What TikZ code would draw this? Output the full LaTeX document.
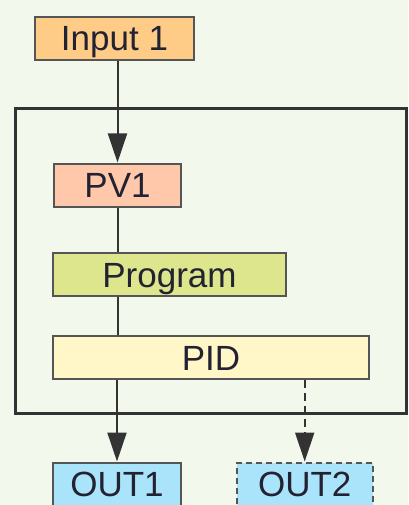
\documentclass[tikz,border=0pt]{standalone}
\usepackage{fontspec}
\setmainfont{Liberation Sans}
\usetikzlibrary{arrows.meta}
\newlength{\du}
\setlength{\du}{1pt}

\begin{document}
\begin{tikzpicture}[
  blok/.style={draw=boxline, line width=2\du, minimum height=43\du, inner sep=0pt, text height=25\du, text depth=0\du, text=textcol, font=\fontsize{35}{40}\selectfont},
  wire/.style={draw=linkcol, line width=2\du},
  link/.style={wire, -{Triangle[length=29pt,width=19pt]}}
]
\pgftransformxscale{1.000000}
\pgftransformyscale{-1.000000}
\definecolor{bgcol}{RGB}{242,248,235}
\definecolor{boxline}{RGB}{85,85,85}
\definecolor{framecol}{RGB}{51,51,51}
\definecolor{linkcol}{RGB}{51,51,51}
\definecolor{textcol}{RGB}{34,34,51}
\definecolor{inputcol}{RGB}{255,204,136}
\definecolor{pvcol}{RGB}{255,200,170}
\definecolor{progcol}{RGB}{221,230,140}
\definecolor{pidcol}{RGB}{255,247,200}
\definecolor{outcol}{RGB}{170,228,250}
% background
\fill[bgcol] (0\du,0\du) rectangle (408\du,505\du);
\useasboundingbox (0\du,0\du) rectangle (408\du,505\du);
% controller frame
\node[draw=framecol, line width=3\du, minimum width=391\du, minimum height=304\du, inner sep=0pt] (frame) at (210.500000\du,261.000000\du){};
% blocks
\node[blok, fill=inputcol, minimum width=159\du] (input1) at (114.500000\du,38.500000\du){Input 1};
\node[blok, fill=pvcol, minimum width=127\du] (pv1) at (117.500000\du,185.000000\du){PV1};
\node[blok, fill=progcol, minimum width=233\du] (program) at (169.500000\du,274.500000\du){Program};
\node[blok, fill=pidcol, minimum width=316\du] (pid) at (211.000000\du,357.500000\du){PID};
\node[blok, fill=outcol, minimum width=128\du] (out1) at (117.000000\du,484.000000\du){OUT1};
\node[blok, fill=outcol, dash pattern=on 6\du off 4\du, minimum width=136\du] (out2) at (304.700000\du,484.000000\du){OUT2};
% connectors
\draw[link] (input1.south -| pv1.north) -- (pv1.north);
\draw[wire] (pv1.south) -- (program.north -| pv1.south);
\draw[wire] (program.south -| pv1.south) -- (pid.north -| pv1.south);
\draw[link] (pid.south -| out1.north) -- (out1.north);
\draw[link, dash pattern=on 8\du off 5\du] (pid.south -| out2.north) -- (out2.north);
\end{tikzpicture}
\end{document}
